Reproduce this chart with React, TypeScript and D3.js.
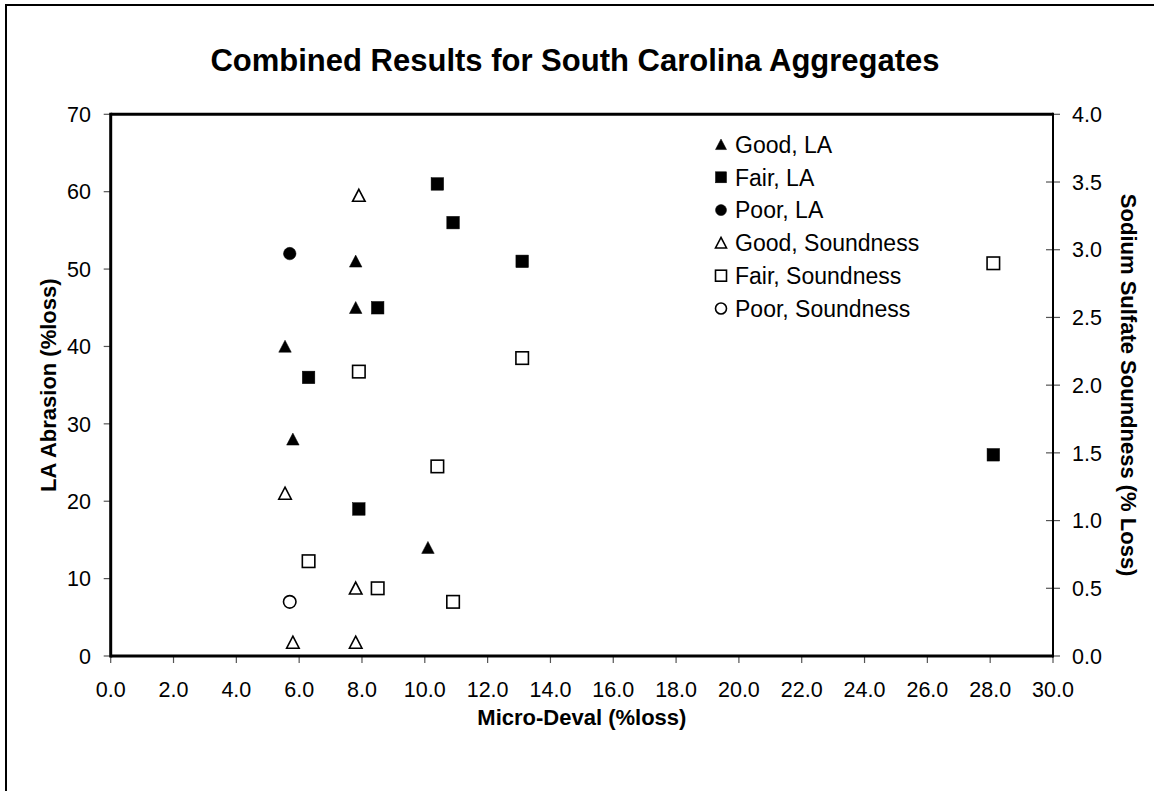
import React from 'react';
import * as d3 from 'd3';

// [Micro-Deval, value]
const goodLA: [number, number][] = [[5.55, 40], [5.8, 28], [7.8, 51], [7.8, 45], [10.1, 14]];
const fairLA: [number, number][] = [[10.4, 61], [10.9, 56], [13.1, 51], [8.5, 45], [6.3, 36], [7.9, 19], [28.1, 26]];
const poorLA: [number, number][] = [[5.7, 52]];
const goodSound: [number, number][] = [[7.9, 3.4], [5.55, 1.2], [7.8, 0.5], [5.8, 0.1], [7.8, 0.1]];
const fairSound: [number, number][] = [[13.1, 2.2], [7.9, 2.1], [10.4, 1.4], [6.3, 0.7], [8.5, 0.5], [10.9, 0.4], [28.1, 2.9]];
const poorSound: [number, number][] = [[5.7, 0.4]];

const xTicks = d3.range(0, 30.001, 2);
const yLeftTicks = d3.range(0, 70.001, 10);
const yRightTicks = d3.range(0, 4.001, 0.5);

const legendLabels = ['Good, LA', 'Fair, LA', 'Poor, LA', 'Good, Soundness', 'Fair, Soundness', 'Poor, Soundness'];

const FONT = "'Liberation Sans', Arial, sans-serif";

type Shape = 'tri' | 'sq' | 'circ';

function Marker({ x, y, shape, filled, s }: { x: number; y: number; shape: Shape; filled: boolean; s: number }) {
  const fill = filled ? '#000' : '#fff';
  const stroke = '#000';
  const sw = filled ? 0.5 : 1.6;
  const h = s / 2;
  if (shape === 'sq') {
    return <rect x={x - h} y={y - h} width={s} height={s} fill={fill} stroke={stroke} strokeWidth={sw} />;
  }
  if (shape === 'circ') {
    return <circle cx={x} cy={y} r={h} fill={fill} stroke={stroke} strokeWidth={sw} />;
  }
  const p = d3.path();
  p.moveTo(x, y - h);
  p.lineTo(x + h, y + h * 0.92);
  p.lineTo(x - h, y + h * 0.92);
  p.closePath();
  return <path d={p.toString()} fill={fill} stroke={stroke} strokeWidth={sw} strokeLinejoin="miter" />;
}

export default function App() {
  const W = 1154, H = 791;
  const left = 110.7, right = 1053, top = 114.3, bottom = 656;
  const x = d3.scaleLinear().domain([0, 30]).range([left, right]);
  const yL = d3.scaleLinear().domain([0, 70]).range([bottom, top]);
  const yR = d3.scaleLinear().domain([0, 4]).range([bottom, top]);

  const series: { data: [number, number][]; shape: Shape; filled: boolean; axis: 'L' | 'R' }[] = [
    { data: goodLA, shape: 'tri', filled: true, axis: 'L' },
    { data: fairLA, shape: 'sq', filled: true, axis: 'L' },
    { data: poorLA, shape: 'circ', filled: true, axis: 'L' },
    { data: goodSound, shape: 'tri', filled: false, axis: 'R' },
    { data: fairSound, shape: 'sq', filled: false, axis: 'R' },
    { data: poorSound, shape: 'circ', filled: false, axis: 'R' },
  ];

  return (
    <svg width={W} height={H} style={{ position: 'absolute', left: 0, top: 0, background: '#fff' }} fontFamily={FONT}>
      <rect x={0} y={0} width={W} height={H} fill="#fff" />
      {/* outer chart border */}
      <rect x={6} y={5} width={W + 20} height={H + 20} fill="none" stroke="#000" strokeWidth={2} />

      {/* title */}
      <text x={575} y={71} textAnchor="middle" fontSize={31} fontWeight="bold">Combined Results for South Carolina Aggregates</text>

      {/* ticks */}
      {xTicks.map((t) => (
        <g key={'x' + t}>
          <line x1={x(t)} x2={x(t)} y1={bottom} y2={bottom + 7} stroke="#555" strokeWidth={1.2} />
          <text x={x(t)} y={697} textAnchor="middle" fontSize={21.5}>{t.toFixed(1)}</text>
        </g>
      ))}
      {yLeftTicks.map((t) => (
        <g key={'yl' + t}>
          <line x1={left - 7} x2={left} y1={yL(t)} y2={yL(t)} stroke="#555" strokeWidth={1.2} />
          <text x={91} y={yL(t)} dy="0.36em" textAnchor="end" fontSize={21.5}>{t}</text>
        </g>
      ))}
      {yRightTicks.map((t) => (
        <g key={'yr' + t}>
          <line x1={right - 7} x2={right + 7} y1={yR(t)} y2={yR(t)} stroke="#555" strokeWidth={1.2} />
          <text x={1072} y={yR(t)} dy="0.36em" textAnchor="start" fontSize={21.5}>{t.toFixed(1)}</text>
        </g>
      ))}

      {/* plot frame */}
      <line x1={left} x2={right} y1={top} y2={top} stroke="#000" strokeWidth={3} />
      <line x1={left} x2={right} y1={bottom} y2={bottom} stroke="#000" strokeWidth={3} />
      <line x1={left} x2={left} y1={top - 1.5} y2={bottom + 1.5} stroke="#000" strokeWidth={3} />
      <line x1={right} x2={right} y1={top - 1.5} y2={bottom + 1.5} stroke="#000" strokeWidth={2} />

      {/* points */}
      {series.map((s, i) =>
        s.data.map((d, j) => (
          <Marker key={i + '-' + j} x={x(d[0])} y={s.axis === 'L' ? yL(d[1]) : yR(d[1])} shape={s.shape} filled={s.filled} s={12.5} />
        ))
      )}

      {/* legend */}
      {series.map((s, i) => (
        <g key={'lg' + i}>
          <Marker x={721} y={144.5 + i * 32.8} shape={s.shape} filled={s.filled} s={11} />
          <text x={735} y={144.5 + i * 32.8} dy="0.36em" fontSize={23}>{legendLabels[i]}</text>
        </g>
      ))}

      {/* axis titles */}
      <text x={(left + right) / 2} y={725} textAnchor="middle" fontSize={22} fontWeight="bold">Micro-Deval (%loss)</text>
      <text transform={`translate(56, ${(top + bottom) / 2}) rotate(-90)`} textAnchor="middle" fontSize={22} fontWeight="bold">LA Abrasion (%loss)</text>
      <text transform={`translate(1121, ${(top + bottom) / 2}) rotate(90)`} textAnchor="middle" fontSize={22} fontWeight="bold">Sodium Sulfate Soundness (% Loss)</text>
    </svg>
  );
}
